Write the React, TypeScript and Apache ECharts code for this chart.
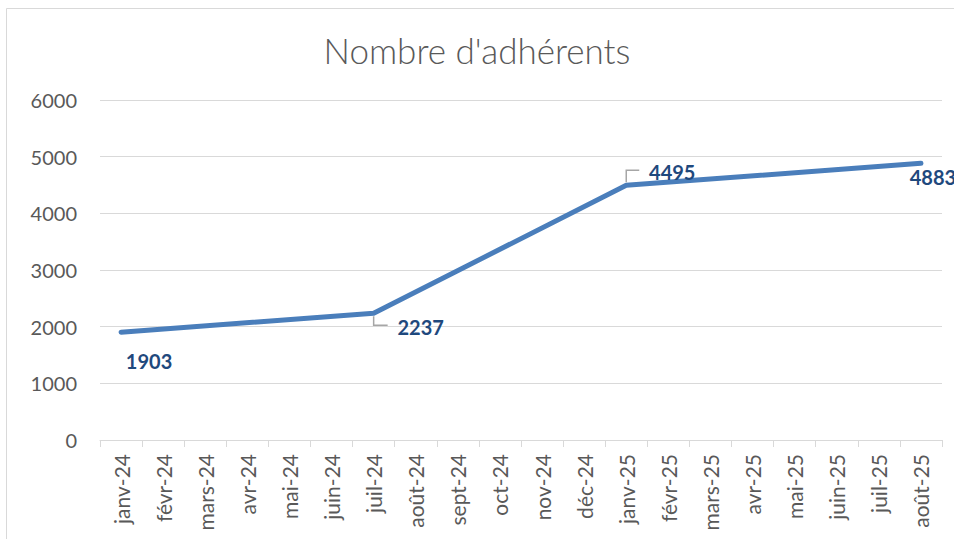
import React, { useEffect, useRef } from "react";
import * as echarts from "echarts";

const title = "Nombre d'adhérents";
const categories = [
  "janv-24", "févr-24", "mars-24", "avr-24", "mai-24", "juin-24", "juil-24", "août-24",
  "sept-24", "oct-24", "nov-24", "déc-24", "janv-25", "févr-25", "mars-25", "avr-25",
  "mai-25", "juin-25", "juil-25", "août-25",
];
const values: (number | null)[] = [
  1903, null, null, null, null, null, 2237, null,
  null, null, null, null, 4495, null, null, null,
  null, null, null, 4883,
];
const yTicks = { min: 0, max: 6000, interval: 1000 };

// label placement (style only): offset from point, and leader-line kind
const labelStyle: Record<number, { dx: number; dy: number; leader?: "down" | "up" }> = {
  0: { dx: 28, dy: 29 },
  6: { dx: 47, dy: 14, leader: "down" },
  12: { dx: 46, dy: -13, leader: "up" },
  19: { dx: 12, dy: 14 },
};

const FONT = "Lato, 'Open Sans', sans-serif";

export default function App() {
  const ref = useRef<HTMLDivElement>(null);
  useEffect(() => {
    document.body.style.margin = "0";
    const chart = echarts.init(ref.current!, null, { renderer: "svg" });
    const data = values.map((v, i) => {
      const ls = labelStyle[i];
      if (v == null || !ls) return v;
      return {
        value: v,
        label: { show: true, position: "inside", offset: [ls.dx, ls.dy] },
      };
    });
    chart.setOption({
      animation: false,
      backgroundColor: "#fff",
      title: {
        text: title,
        left: "center",
        top: 27,
        textStyle: { fontFamily: FONT, fontSize: 35, fontWeight: 300, color: "#595959" },
      },
      grid: { left: 100, right: 12, top: 100, bottom: 99, containLabel: false },
      xAxis: {
        type: "category",
        data: categories,
        boundaryGap: true,
        axisLine: { lineStyle: { color: "#d9d9d9", width: 1 } },
        axisTick: { show: true, interval: 0, length: 7, lineStyle: { color: "#d9d9d9" } },
        axisLabel: {
          interval: 0,
          rotate: 90,
          margin: 14,
          fontFamily: FONT,
          fontSize: 21,
          color: "#595959",
        },
      },
      yAxis: {
        type: "value",
        min: yTicks.min,
        max: yTicks.max,
        interval: yTicks.interval,
        axisLine: { show: false },
        axisTick: { show: false },
        splitLine: { lineStyle: { color: "#d9d9d9", width: 1 } },
        axisLabel: {
          fontFamily: FONT,
          fontSize: 20,
          color: "#595959",
          margin: 23,
          formatter: (v: number) => String(v),
        },
      },
      series: [
        {
          type: "line",
          data,
          connectNulls: true,
          showSymbol: true,
          showAllSymbol: true,
          symbol: "circle",
          symbolSize: 1,
          itemStyle: { color: "rgba(0,0,0,0)", borderWidth: 0 },
          lineStyle: { color: "#4a7ebb", width: 5, cap: "round", join: "round" },
          label: {
            show: false,
            fontFamily: FONT,
            fontSize: 20,
            fontWeight: "bold",
            color: "#1f497d",
          },
          emphasis: { disabled: true },
          z: 3,
        },
      ],
    });
    const graphics: any[] = [
      {
        type: "rect",
        shape: { x: 6.5, y: 8.5, width: 1000, height: 1000 },
        style: { fill: "none", stroke: "#d9d9d9", lineWidth: 1 },
        silent: true,
        z: -10,
      },
    ];
    values.forEach((v, i) => {
      const ls = labelStyle[i];
      if (v == null || !ls || !ls.leader) return;
      const [px, py] = chart.convertToPixel({ seriesIndex: 0 }, [i, v]) as number[];
      if (ls.leader === "down") {
        graphics.push({
          type: "polyline",
          shape: { points: [[px, py + 3], [px, py + 12], [px + 14, py + 12]] },
          style: { stroke: "#a6a6a6", lineWidth: 1.5, fill: "none" },
          z: 2,
        });
      } else {
        graphics.push({
          type: "polyline",
          shape: { points: [[px, py - 3], [px, py - 15], [px + 13, py - 15]] },
          style: { stroke: "#a6a6a6", lineWidth: 1.5, fill: "none" },
          z: 2,
        });
      }
    });
    chart.setOption({ graphic: graphics });
    return () => chart.dispose();
  }, []);
  return <div ref={ref} style={{ width: 954, height: 539 }} />;
}
